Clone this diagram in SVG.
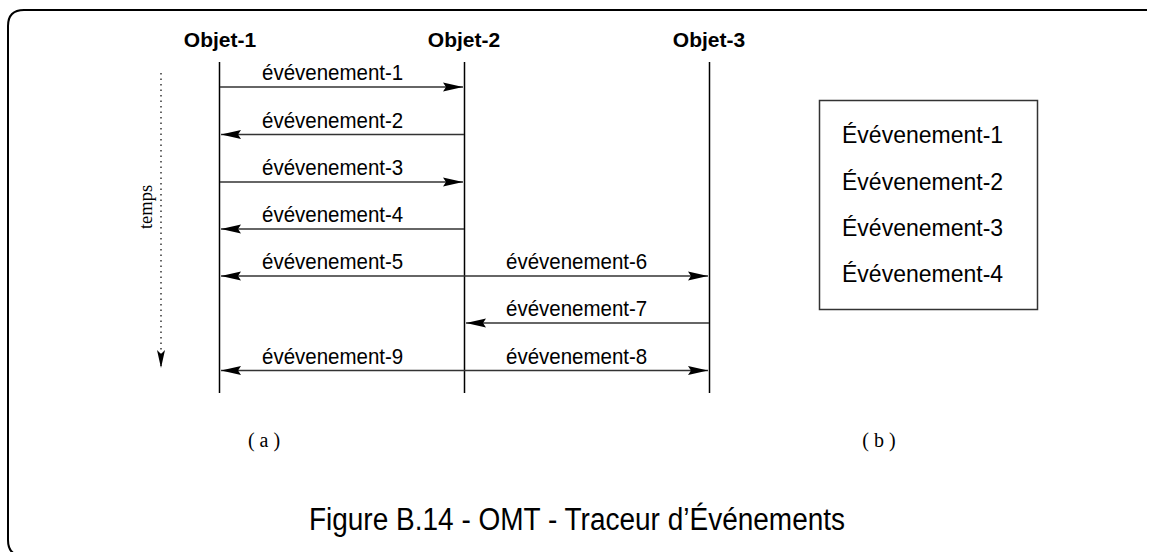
<svg xmlns="http://www.w3.org/2000/svg" width="1150" height="552" viewBox="0 0 1150 552">
<style>
.frame{fill:none;stroke:#000;stroke-width:2}
.life{stroke:#000;stroke-width:1.5}
.msg{stroke:#333;stroke-width:1.5;fill:none}
.obj{font-family:"Liberation Sans",Arial,sans-serif;font-weight:bold;font-size:21px;text-anchor:middle;fill:#000}
.lbl{font-family:"Liberation Sans",Arial,sans-serif;font-size:20.5px;fill:#000}
.lst{font-family:"Liberation Sans",Arial,sans-serif;font-size:23px;fill:#000}
.ser{font-family:"Liberation Serif","Times New Roman",serif;font-size:20px;text-anchor:middle;fill:#000}
.cap{font-family:"Liberation Sans",Arial,sans-serif;font-size:28px;text-anchor:middle;fill:#000}
</style>
<defs>
<marker id="ah" viewBox="0 0 20 10" refX="20" refY="5" markerWidth="20" markerHeight="10" markerUnits="userSpaceOnUse" orient="auto-start-reverse">
<path d="M0,0.5 L20,5 L0,9.5 L3,5 Z" fill="#000"/>
</marker>
<marker id="th" viewBox="0 0 8 18" refX="4" refY="18" markerWidth="8" markerHeight="18" markerUnits="userSpaceOnUse" orient="0">
<path d="M0,0 L4,4 L8,0 L4,18 Z" fill="#000"/>
</marker>
</defs>
<path class="frame" d="M1147,10 L24,10 Q8,10 8,26 L8,540 Q8,556 24,556"/>
<g id="objet-1">
<text class="obj" x="220" y="47">Objet-1</text>
<line class="life" x1="219.5" y1="62" x2="219.5" y2="393"/>
</g>
<g id="objet-2">
<text class="obj" x="464" y="47">Objet-2</text>
<line class="life" x1="464.5" y1="62" x2="464.5" y2="393"/>
</g>
<g id="objet-3">
<text class="obj" x="709" y="47">Objet-3</text>
<line class="life" x1="709.5" y1="62" x2="709.5" y2="393"/>
</g>
<g id="temps">
<line x1="161" y1="73" x2="161" y2="368" stroke="#000" stroke-width="1.2" stroke-dasharray="1.5,4" marker-end="url(#th)"/>
<text x="152" y="207" transform="rotate(-90 152 207)" font-family="'Liberation Serif','Times New Roman',serif" font-size="18.5" text-anchor="middle">temps</text>
</g>
<g id="connectors">
<line class="msg" x1="220" y1="87" x2="463" y2="87" marker-end="url(#ah)"/>
<line class="msg" x1="464" y1="134.5" x2="221" y2="134.5" marker-end="url(#ah)"/>
<line class="msg" x1="220" y1="182" x2="463" y2="182" marker-end="url(#ah)"/>
<line class="msg" x1="464" y1="229" x2="221" y2="229" marker-end="url(#ah)"/>
<line class="msg" x1="464" y1="276" x2="221" y2="276" marker-end="url(#ah)"/>
<line class="msg" x1="464" y1="276" x2="708" y2="276" marker-end="url(#ah)"/>
<line class="msg" x1="709" y1="323" x2="466" y2="323" marker-end="url(#ah)"/>
<line class="msg" x1="464" y1="370.5" x2="221" y2="370.5" marker-end="url(#ah)"/>
<line class="msg" x1="464" y1="370.5" x2="708" y2="370.5" marker-end="url(#ah)"/>
</g>
<g id="labels">
<text class="lbl" transform="translate(262,80) scale(1,1.1)">évévenement-1</text>
<text class="lbl" transform="translate(262,127.5) scale(1,1.1)">évévenement-2</text>
<text class="lbl" transform="translate(262,175) scale(1,1.1)">évévenement-3</text>
<text class="lbl" transform="translate(262,222) scale(1,1.1)">évévenement-4</text>
<text class="lbl" transform="translate(262,269) scale(1,1.1)">évévenement-5</text>
<text class="lbl" transform="translate(506,269) scale(1,1.1)">évévenement-6</text>
<text class="lbl" transform="translate(506,316) scale(1,1.1)">évévenement-7</text>
<text class="lbl" transform="translate(262,363.5) scale(1,1.1)">évévenement-9</text>
<text class="lbl" transform="translate(506,363.5) scale(1,1.1)">évévenement-8</text>
</g>
<g id="liste">
<rect x="819.5" y="100.5" width="218" height="209" fill="none" stroke="#333" stroke-width="1.5"/>
<text class="lst" x="842" y="143">Évévenement-1</text>
<text class="lst" x="842" y="189.5">Évévenement-2</text>
<text class="lst" x="842" y="236">Évévenement-3</text>
<text class="lst" x="842" y="282">Évévenement-4</text>
</g>
<text class="ser" x="264" y="447">( a )</text>
<text class="ser" x="879" y="447">( b )</text>
<text class="cap" x="577" y="530" transform="translate(0,-53) scale(1,1.1)">Figure B.14 - OMT - Traceur d’Événements</text>
</svg>
